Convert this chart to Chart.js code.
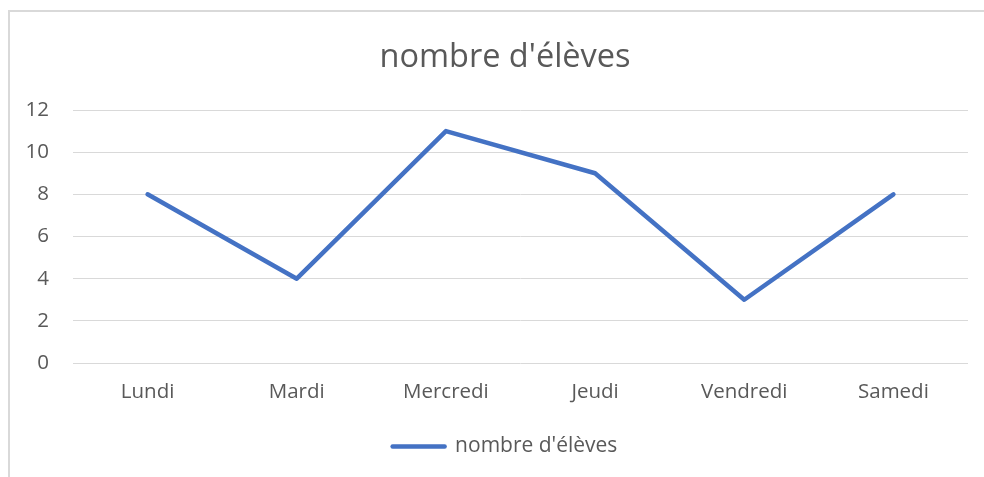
<!DOCTYPE html>
<html>
<head>
<meta charset="utf-8">
<script src="https://cdn.jsdelivr.net/npm/chart.js@4.4.1/dist/chart.umd.min.js"></script>
<style>
  html, body { margin: 0; padding: 0; background: #fff; }
  #wrap { position: relative; width: 984px; height: 477px; overflow: hidden; }
  #frame { position: absolute; left: 8px; top: 10px; width: 1000px; height: 500px;
           border-left: 2px solid #d9d9d9; border-top: 2px solid #d9d9d9; box-sizing: border-box; }
  canvas { position: absolute; left: 0; top: 0; }
</style>
</head>
<body>
<div id="wrap">
  <div id="frame"></div>
  <canvas id="c" width="984" height="477"></canvas>
</div>
<script>
const categories = ["Lundi", "Mardi", "Mercredi", "Jeudi", "Vendredi", "Samedi"];
const seriesName = "nombre d'élèves";
const values = [8, 4, 11, 9, 3, 8];
const yTicks = [0, 2, 4, 6, 8, 10, 12];

const FONT = "'Open Sans', sans-serif";
const TXT = "#595959";

new Chart(document.getElementById('c'), {
  type: 'line',
  data: {
    labels: categories,
    datasets: [{
      label: seriesName,
      data: values,
      borderColor: '#4472C4',
      backgroundColor: '#4472C4',
      borderWidth: 4.5,
      pointRadius: 0,
      pointHoverRadius: 0,
      tension: 0,
      borderJoinStyle: 'round',
      borderCapStyle: 'round',
      pointStyle: 'line'
    }]
  },
  options: {
    responsive: false,
    animation: false,
    events: [],
    layout: { padding: { left: 42, right: 16, top: 0, bottom: 10 } },
    plugins: {
      title: {
        display: true,
        text: seriesName,
        color: TXT,
        font: { family: FONT, size: 32.5, weight: 'normal', lineHeight: 1.2 },
        padding: { top: 38, bottom: 33 }
      },
      legend: {
        display: true,
        position: 'bottom',
        labels: {
          color: TXT,
          font: { family: FONT, size: 21, lineHeight: 1.2 },
          usePointStyle: true,
          pointStyleWidth: 52,
          boxHeight: 21,
          padding: 10,
          generateLabels: (chart) => chart.data.datasets.map((ds, i) => ({
            text: ds.label,
            fillStyle: ds.borderColor,
            strokeStyle: ds.borderColor,
            lineWidth: 4.5,
            lineCap: 'round',
            pointStyle: 'line',
            datasetIndex: i,
            fontColor: TXT
          }))
        }
      },
      tooltip: { enabled: false }
    },
    scales: {
      x: {
        offset: true,
        grid: { display: false, drawTicks: false },
        border: { display: false },
        ticks: { color: TXT, font: { family: FONT, size: 20.5 }, padding: 17, maxRotation: 0 },
        afterFit: (s) => { s.height = 63; }
      },
      y: {
        min: 0,
        max: 12,
        afterBuildTicks: (s) => { s.ticks = yTicks.map(v => ({ value: v })); },
        grid: { color: '#d9d9d9', lineWidth: 1, drawTicks: false },
        border: { display: false },
        ticks: { color: TXT, font: { family: FONT, size: 20.5 }, mirror: true, crossAlign: 'far', padding: -47.5 },
        afterFit: (s) => { s.width = 31; }
      }
    }
  }
});
</script>
</body>
</html>
